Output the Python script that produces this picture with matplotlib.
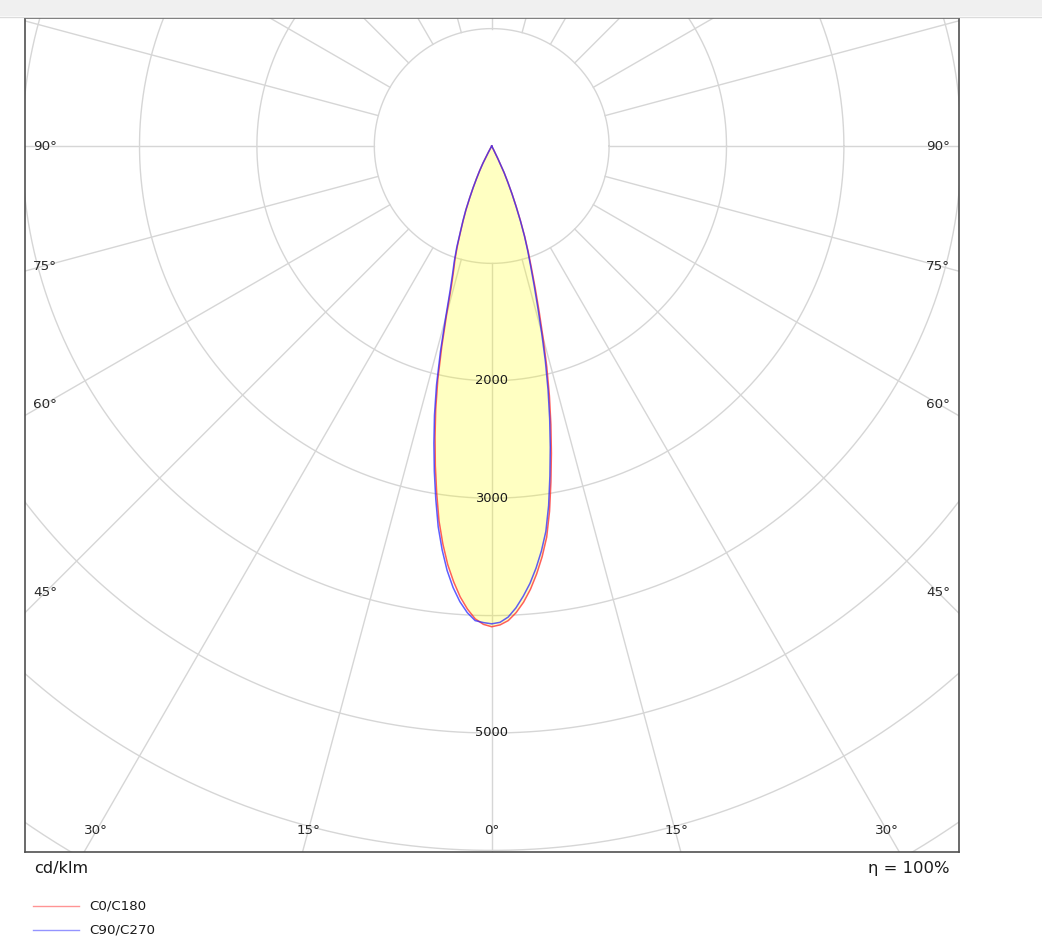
import numpy as np
import matplotlib
matplotlib.use("Agg")
import matplotlib.pyplot as plt
from matplotlib.lines import Line2D
from matplotlib.patches import Rectangle

# ---------------- data (cd/klm), gamma in degrees from nadir ----------------
gamma = list(range(0, 31))
c0   = [4095, 4080, 4045, 3980, 3895, 3790, 3665, 3525, 3365, 3150, 2905, 2665, 2425, 2185, 1940,
        1690, 1465, 1270, 1100, 960, 825, 690, 560, 445, 340, 250, 120, 30, 0, 0, 0]
c90  = [4070, 4058, 4015, 3940, 3845, 3740, 3615, 3475, 3315, 3100, 2855, 2615, 2375, 2135, 1890,
        1640, 1415, 1230, 1070, 940, 815, 680, 550, 440, 335, 250, 120, 30, 0, 0, 0]
c180 = [4095, 4075, 4030, 3950, 3850, 3725, 3585, 3415, 3225, 2995, 2765, 2530, 2295, 2040, 1755,
        1480, 1250, 1110, 1010, 895, 775, 675, 580, 478, 390, 305, 235, 165, 60, 0, 0]
c270 = [4070, 4060, 4045, 3980, 3890, 3775, 3635, 3465, 3275, 3045, 2815, 2580, 2345, 2090, 1805,
        1520, 1290, 1140, 1030, 915, 785, 685, 590, 482, 390, 305, 235, 165, 60, 0, 0]

ring_values = [1000, 2000, 3000, 4000, 5000, 6000, 7000]
ring_labels = [2000, 3000, 5000]
spoke_angles = list(range(0, 360, 15))
side_angle_labels = [90, 75, 60, 45]
bottom_angle_labels = [30, 15, 0, 15, 30]
series_names = ["C0/C180", "C90/C270"]
unit_text = "cd/klm"
eta_text = "η = 100%"

# ---------------- figure ----------------
W, H = 1042, 939
fig = plt.figure(figsize=(W / 100, H / 100), dpi=100)
fig.patch.set_facecolor("white")
fig.patches.append(Rectangle((0, 1 - 16 / H), 1, 16 / H, transform=fig.transFigure,
                             facecolor="#f0f0f0", edgecolor="none", zorder=0))
fig.add_artist(Line2D([0, 1], [1 - 16.5 / H, 1 - 16.5 / H], transform=fig.transFigure,
                      color="#dcdcdc", lw=1))

L, R, T, B = 25, 959, 18, 852
ax = fig.add_axes([L / W, 1 - B / H, (R - L) / W, (B - T) / H])
cx, cy = 491.7, 146.0
s = 0.1174  # px per cd/klm
ax.set_xlim(-(cx - L) / s, (R - cx) / s)
ax.set_ylim(-(B - cy) / s, (cy - T) / s)
ax.set_xticks([])
ax.set_yticks([])
for sp in ax.spines.values():
    sp.set_color("#505050")
    sp.set_linewidth(1.2)

grid_c = "#d6d6d6"
th = np.linspace(0, 2 * np.pi, 1441)
for r in ring_values:
    ax.plot(r * np.cos(th), r * np.sin(th), color=grid_c, lw=1.0, zorder=1)
for a in spoke_angles:
    g = np.radians(a)
    rr = np.array([ring_values[0], 12000])
    ax.plot(rr * np.sin(g), -rr * np.cos(g), color=grid_c, lw=1.0, zorder=1)


def curve(right, left):
    gr = np.radians(np.array(gamma, float))
    rv = np.array(right, float)
    lv = np.array(left, float)
    xl = -lv[::-1] * np.sin(gr[::-1])
    yl = -lv[::-1] * np.cos(gr[::-1])
    xr = rv[1:] * np.sin(gr[1:])
    yr = -rv[1:] * np.cos(gr[1:])
    return np.concatenate([xl, xr]), np.concatenate([yl, yr])


x1, y1 = curve(c0, c180)
x2, y2 = curve(c90, c270)
ax.fill(x1, y1, color="#ffff00", alpha=0.24, lw=0, zorder=2)
ax.plot(x1, y1, color="#ff2a2a", lw=1.1, alpha=0.75, zorder=4, solid_joinstyle="round")
ax.plot(x2, y2, color="#2a2aff", lw=1.1, alpha=0.75, zorder=5, solid_joinstyle="round")

for v in ring_labels:
    ax.text(0, -v, str(v), ha="center", va="center", fontsize=9.4, color="#1a1a1a", zorder=6)

side_y = [(B - 147) / (B - T), (B - 267) / (B - T), (B - 404) / (B - T), (B - 592) / (B - T)]
for lab, yy in zip(side_angle_labels, side_y):
    ax.text(8 / (R - L), yy, f"{lab}°", transform=ax.transAxes, ha="left", va="center",
            fontsize=9.7, color="#2a2a2a", zorder=6)
    ax.text(1 - 9 / (R - L), yy, f"{lab}°", transform=ax.transAxes, ha="right", va="center",
            fontsize=9.7, color="#2a2a2a", zorder=6)
bottom_x = [96, 309, 492, 677, 887]
for lab, xx in zip(bottom_angle_labels, bottom_x):
    ax.text((xx - L) / (R - L), (B - 831) / (B - T), f"{lab}°", transform=ax.transAxes,
            ha="center", va="center", fontsize=9.7, color="#2a2a2a", zorder=6)

fig.text(34 / W, 1 - 869 / H, unit_text, ha="left", va="center", fontsize=11.6, color="#1a1a1a")
fig.text(950 / W, 1 - 869 / H, eta_text, ha="right", va="center", fontsize=11.8, color="#1a1a1a")

leg_cols = ["#ff2a2a", "#2a2aff"]
leg_y = [906, 930]
for name, col, yy in zip(series_names, leg_cols, leg_y):
    fig.add_artist(Line2D([33 / W, 79 / W], [1 - yy / H, 1 - yy / H], transform=fig.transFigure,
                          color=col, lw=1.0, alpha=0.5))
    fig.text(89 / W, 1 - yy / H, name, ha="left", va="center", fontsize=9.6, color="#1a1a1a")

fig.savefig("out.png", dpi=100, facecolor="white")
